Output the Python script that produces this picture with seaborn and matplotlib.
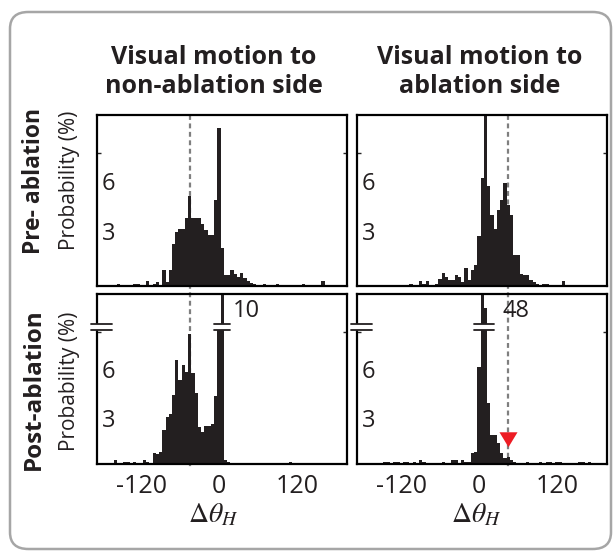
import numpy as np
import matplotlib
matplotlib.use("Agg")
import matplotlib.pyplot as plt
import matplotlib.transforms as mtransforms
from matplotlib.patches import FancyBboxPatch, Rectangle
from matplotlib.lines import Line2D
import seaborn as sns

# ---- heading-change histograms: bin centres (deg) and probability (%) ----
pre_non_angle = [-155, -130, -125, -110, -100, -95, -85, -80, -75, -70, -65, -60, -55,
                 -50, -45, -40, -35, -30, -25, -20, -15, -10, -5, 0, 5, 10, 15, 20,
                 25, 30, 35, 40, 45, 50, 55, 70, 90, 130, 160]
pre_non_prob = [0.15, 0.15, 0.15, 0.3, 0.15, 0.25, 0.95, 0.25, 0.95, 2.5, 3.25, 3.45, 3.45,
                4.1, 5.4, 4.1, 4.1, 4.1, 3.75, 3.35, 3.05, 3.05, 5.2, 9.5, 2.3, 0.65, 0.65, 0.95,
                0.75, 0.55, 0.8, 0.5, 0.3, 0.2, 0.1, 0.15, 0.15, 0.15, 0.3]

pre_abl_angle = [-105, -90, -85, -80, -65, -60, -55, -50, -45, -40, -35, -30, -25, -20,
                 -15, -10, -5, 0, 5, 10, 15, 20, 25, 30, 35, 40, 45, 50, 55, 60, 65, 70,
                 75, 80, 85, 90, 100, 105, 130]
pre_abl_prob = [0.15, 0.3, 0.15, 0.3, 0.15, 0.45, 0.8, 0.55, 0.35, 0.35, 0.65, 0.55, 0.25, 1.1,
                0.35, 0.95, 1.25, 3.0, 6.5, 11.0, 6.0, 4.3, 3.45, 4.6, 5.2, 6.2, 4.85, 4.25, 1.85,
                1.85, 0.7, 0.65, 0.65, 0.35, 0.25, 0.15, 0.15, 0.15, 0.3]

post_non_angle = [-160, -145, -140, -130, -115, -110, -100, -95, -90, -85, -80, -75, -70,
                  -65, -60, -55, -50, -45, -40, -35, -30, -25, -20, -15, -10, -5, 0, 5,
                  10, 15, 110]
post_non_prob = [0.25, 0.15, 0.1, 0.15, 0.25, 0.1, 0.65, 0.6, 0.75, 2.05, 2.85, 3.0, 4.2,
                 6.3, 5.1, 6.0, 5.6, 7.9, 5.5, 4.3, 2.25, 1.95, 2.3, 2.3, 2.45, 4.1, 8.3, 10.0,
                 0.25, 0.1, 0.1]

post_abl_angle = [-145, -140, -130, -125, -115, -110, -100, -90, -85, -55, -40, -35, -25,
                  -20, -15, -10, -5, 0, 5, 10, 15, 20, 25, 30, 35, 40, 45, 50, 55, 75,
                  95, 105, 110, 120, 125, 155, 160, 170]
post_abl_prob = [0.1, 0.1, 0.1, 0.1, 0.1, 0.1, 0.15, 0.25, 0.1, 0.1, 0.25, 0.25, 0.25,
                 0.1, 0.1, 0.65, 0.75, 5.85, 48.0, 30.0, 3.7, 1.75, 1.75, 1.25, 0.65, 0.35,
                 0.45, 0.25, 0.1, 0.1, 0.1, 0.1, 0.1, 0.1, 0.1, 0.1, 0.1, 0.1]

column_titles = ["Visual motion to\nnon-ablation side", "Visual motion to\nablation side"]
row_titles = ["Pre- ablation", "Post-ablation"]
y_label = "Probability (%)"
x_label = r"$\Delta\theta_H$"
xtick_values = [-120, 0, 120]
xtick_labels = ["-120", "0", "120"]
ytick_values = [3, 6]
mean_heading = [-45, 45]          # dashed reference headings per column
marker_heading = 45               # red arrowhead, post-ablation / ablation side
marker_prob = 1.5

BIN = 5
INK = "#231f20"

sns.set_style("white")
plt.rcParams["font.family"] = ["Open Sans", "DejaVu Sans"]
plt.rcParams["mathtext.fontset"] = "stix"

W, H = 613, 556
fig = plt.figure(figsize=(W / 100, H / 100), dpi=100)


def px_axes(x0, y0, x1, y1):
    return fig.add_axes([x0 / W, 1 - y1 / H, (x1 - x0) / W, (y1 - y0) / H])


def px_y(y):
    return 1 - y / H


boxes = {
    (0, 0): (97, 115, 347, 286), (0, 1): (357, 115, 607, 286),
    (1, 0): (97, 294, 347, 464), (1, 1): (357, 294, 607, 464),
}
data = {
    (0, 0): (pre_non_angle, pre_non_prob), (0, 1): (pre_abl_angle, pre_abl_prob),
    (1, 0): (post_non_angle, post_non_prob), (1, 1): (post_abl_angle, post_abl_prob),
}

XLIM = (-188, 197)
YTOP = 10.3          # displayed top of every panel (linear units)
BRK_LO, BRK_HI = 8.12, 8.48

axes = {}
for key, box in boxes.items():
    r, c = key
    ax = px_axes(*box)
    ax.patch.set_alpha(0)
    axes[key] = ax
    ang, prob = data[key]
    sns.histplot(x=ang, weights=prob, binwidth=BIN,
                 binrange=(-180 - BIN / 2, 180 + BIN / 2),
                 color=INK, alpha=1, linewidth=0, edgecolor=INK, ax=ax)
    ax.set_xlim(*XLIM)
    if r == 1:
        vmax = max(prob)
        k = (YTOP - BRK_HI) / (vmax - BRK_HI)

        def fwd(y, k=k):
            y = np.asarray(y, dtype=float)
            return np.where(y <= BRK_HI, y, BRK_HI + (y - BRK_HI) * k)

        def inv(y, k=k):
            y = np.asarray(y, dtype=float)
            return np.where(y <= BRK_HI, y, BRK_HI + (y - BRK_HI) / k)

        ax.set_yscale("function", functions=(fwd, inv))
        ax.set_ylim(0, vmax)
    else:
        ax.set_ylim(0, YTOP)

    ax.set_ylabel("")
    ax.set_xlabel("")
    for s in ax.spines.values():
        s.set_visible(True)
        s.set_color("black")
        s.set_linewidth(1.6)
    ax.set_yticks([8])
    ax.set_yticklabels([])
    ax.tick_params(axis="y", direction="in", length=3, width=1, left=True, right=True,
                   labelleft=False)
    ax.set_xticks(xtick_values)
    if r == 1:
        ax.set_xticklabels(xtick_labels, fontsize=18)
        ax.tick_params(axis="x", length=0, pad=7, labelcolor=INK)
    else:
        ax.set_xticklabels([])
        ax.tick_params(axis="x", length=0)

    # value labels inside the panel
    dy = 0.15 if r == 0 else -0.4
    for v in ytick_values:
        ax.text(0.018, v + dy, str(v), transform=mtransforms.blended_transform_factory(
            ax.transAxes, ax.transData), ha="left", va="center", fontsize=17, color=INK)

# broken axis on the post-ablation row
for c in range(2):
    ax = axes[(1, c)]
    ang, prob = data[(1, c)]
    tr = mtransforms.blended_transform_factory(ax.transAxes, ax.transData)
    lo, hi = -6 / 250, 15 / 250
    ax.add_patch(Rectangle((lo, BRK_LO), hi - lo, BRK_HI - BRK_LO, transform=tr,
                           facecolor="white", edgecolor="none", zorder=5, clip_on=False))
    for yb in (BRK_LO, BRK_HI):
        ax.add_line(Line2D([lo, hi], [yb, yb], transform=tr, color=INK, lw=1.3,
                           zorder=6, clip_on=False))
    tall = [a for a, p in zip(ang, prob) if p > BRK_HI]
    x0, x1 = min(tall) - BIN / 2 - 10, max(tall) + BIN / 2 + 10
    ax.add_patch(Rectangle((x0, BRK_LO), x1 - x0, BRK_HI - BRK_LO, facecolor="white",
                           edgecolor="none", zorder=5))
    for yb in (BRK_LO, BRK_HI):
        ax.add_line(Line2D([x0, x1], [yb, yb], color=INK, lw=1.3, zorder=6))
    peak = max(prob)
    lab_x = [21, 36][c]
    ax.text(lab_x, 0.9, f"{peak:g}", transform=mtransforms.blended_transform_factory(
        ax.transData, ax.transAxes), ha="left", va="center", fontsize=17, color=INK,
        zorder=7)

# dashed reference headings spanning both rows, behind the bars
for c in range(2):
    tr = mtransforms.blended_transform_factory(axes[(0, c)].transData, fig.transFigure)
    fig.add_artist(Line2D([mean_heading[c]] * 2, [px_y(115), px_y(468)], transform=tr,
                          color="#7f7f7f", lw=1.6, dashes=(2.2, 1.6), zorder=-1))

# red arrowhead
tri = [(-1, 0.8), (1, 0.8), (0, -0.85)]
axes[(1, 1)].plot([marker_heading], [marker_prob], marker=tri, ms=13, color="#ed1c24",
                  mec="none", zorder=11, clip_on=False)

# column and row titles
for c, xc in enumerate([214, 480]):
    fig.text(xc / W, px_y(72), column_titles[c], ha="center", va="center", fontsize=18,
             fontweight="bold", linespacing=1.22, color=INK)
for r, (yc, yp, fs) in enumerate([(181, 180, 16.5), (389, 381, 17.5)]):
    fig.text(34 / W, px_y(yc), row_titles[r], rotation=90, ha="center", va="center",
             fontsize=fs, fontweight="bold", color=INK)
    fig.text(70 / W, px_y(yp), y_label, rotation=90, ha="center", va="center",
             fontsize=15, color=INK)
for xc in (213, 476):
    fig.text(xc / W, px_y(515), x_label, ha="center", va="center", fontsize=20,
             color=INK)

# rounded panel frame
fig.add_artist(FancyBboxPatch((10 / W, px_y(549)), 601 / W, (549 - 12) / H,
                              boxstyle="round,pad=0,rounding_size=0.03",
                              transform=fig.transFigure, facecolor="none",
                              edgecolor="#a6a6a6", lw=1.8, zorder=-2))

fig.savefig("out.png", dpi=100)
